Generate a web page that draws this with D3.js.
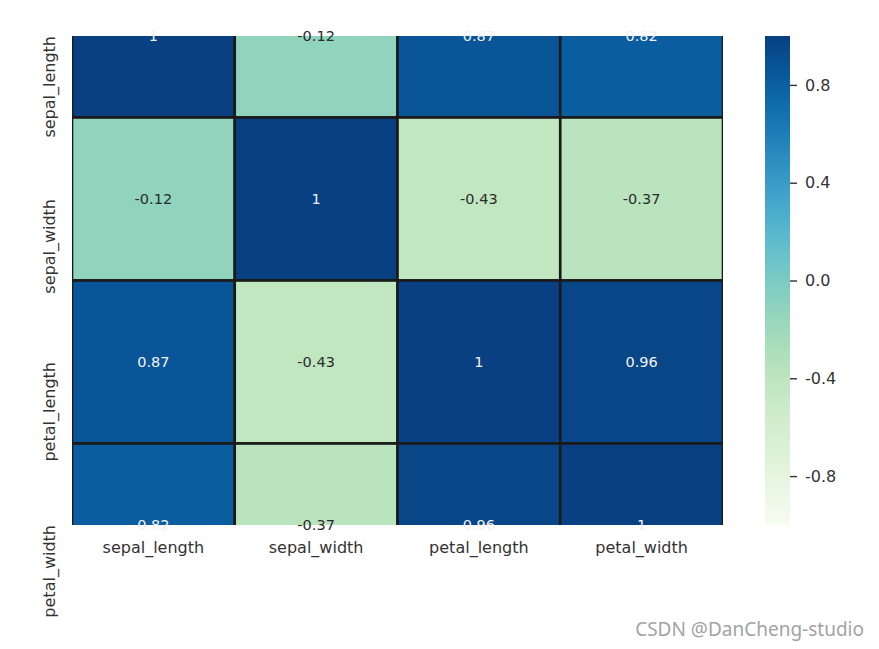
<!DOCTYPE html>
<html>
<head>
<meta charset="utf-8">
<script src="https://cdn.jsdelivr.net/npm/d3@7"></script>
<style>
  html, body { margin: 0; padding: 0; background: #fff; }
  svg { display: block; }
</style>
</head>
<body>
<svg id="chart" width="879" height="649"></svg>
<script>
// ---- data ----
const variables = ["sepal_length", "sepal_width", "petal_length", "petal_width"];
const row_sepal_length = [1, -0.12, 0.87, 0.82];
const row_sepal_width  = [-0.12, 1, -0.43, -0.37];
const row_petal_length = [0.87, -0.43, 1, 0.96];
const row_petal_width  = [0.82, -0.37, 0.96, 1];
const colorbarTicks = [0.8, 0.4, 0.0, -0.4, -0.8];
const colorDomain = [-1, 1];

const matrix = [row_sepal_length, row_sepal_width, row_petal_length, row_petal_width];

// ---- layout ----
const plot = { left: 72, top: 36, right: 723, bottom: 525 };
const cbar = { left: 765, width: 25 };
const FONT = "'DejaVu Sans', sans-serif";

const svg = d3.select("#chart");

const x = d3.scaleBand().domain(variables).range([plot.left, plot.right]).padding(0);
// rows occupy [i, i+1]; visible window is from the centre of the first row to the centre of the last
const y = d3.scaleLinear().domain([0.5, variables.length - 0.5]).range([plot.top, plot.bottom]);
const color = d3.scaleSequential(d3.interpolateGnBu).domain(colorDomain);

svg.append("defs").append("clipPath").attr("id", "plotclip")
  .append("rect")
  .attr("x", plot.left).attr("y", plot.top)
  .attr("width", plot.right - plot.left).attr("height", plot.bottom - plot.top);

const cells = [];
matrix.forEach((row, i) => row.forEach((v, j) => cells.push({ i, j, v })));

const g = svg.append("g").attr("clip-path", "url(#plotclip)");
g.selectAll("rect.cell").data(cells).enter().append("rect")
  .attr("class", "cell")
  .attr("x", d => x(variables[d.j]))
  .attr("y", d => y(d.i))
  .attr("width", x.bandwidth())
  .attr("height", d => y(d.i + 1) - y(d.i))
  .attr("fill", d => color(d.v))
  .attr("stroke", "#1a1a1a")
  .attr("stroke-width", 2.6);

function lum(c) {
  const rgb = d3.rgb(c);
  const f = u => { u /= 255; return u <= 0.03928 ? u / 12.92 : Math.pow((u + 0.055) / 1.055, 2.4); };
  return 0.2126 * f(rgb.r) + 0.7152 * f(rgb.g) + 0.0722 * f(rgb.b);
}

svg.append("g").selectAll("text.annot").data(cells).enter().append("text")
  .attr("class", "annot")
  .attr("x", d => x(variables[d.j]) + x.bandwidth() / 2)
  .attr("y", d => y(d.i + 0.5))
  .attr("text-anchor", "middle")
  .attr("dominant-baseline", "central")
  .attr("font-family", FONT)
  .attr("font-size", 14.5)
  .attr("fill", d => lum(color(d.v)) > 0.408 ? "#2b2b2b" : "#f2f2f6")
  .text(d => String(d.v));

// x tick labels
svg.append("g").selectAll("text.xl").data(variables).enter().append("text")
  .attr("x", d => x(d) + x.bandwidth() / 2)
  .attr("y", 553)
  .attr("text-anchor", "middle")
  .attr("font-family", FONT)
  .attr("font-size", 16)
  .attr("fill", "#333")
  .text(d => d);

// y tick labels (rotated, end of text at the tick)
svg.append("g").selectAll("text.yl").data(variables).enter().append("text")
  .attr("transform", (d, i) => `translate(55,${y(i + 0.5)}) rotate(-90)`)
  .attr("text-anchor", "end")
  .attr("font-family", FONT)
  .attr("font-size", 16)
  .attr("fill", "#333")
  .text(d => d);

// colorbar
const cy = d3.scaleLinear().domain(colorDomain).range([plot.bottom, plot.top]);
const grad = svg.select("defs").append("linearGradient").attr("id", "cbgrad")
  .attr("x1", 0).attr("y1", 1).attr("x2", 0).attr("y2", 0);
d3.range(0, 1.0001, 0.02).forEach(t => {
  grad.append("stop").attr("offset", t).attr("stop-color", d3.interpolateGnBu(t));
});
svg.append("rect")
  .attr("x", cbar.left).attr("y", plot.top)
  .attr("width", cbar.width).attr("height", plot.bottom - plot.top)
  .attr("fill", "url(#cbgrad)");

const cAxis = d3.axisRight(cy).tickValues(colorbarTicks).tickSize(7).tickPadding(8)
  .tickFormat(d => d.toFixed(1));
const ca = svg.append("g").attr("transform", `translate(${cbar.left + cbar.width},0)`).call(cAxis);
ca.select(".domain").remove();
ca.selectAll("line").attr("stroke", "#333").attr("stroke-width", 1.4);
ca.selectAll("text").attr("font-family", FONT).attr("font-size", 16).attr("fill", "#333");

// watermark
svg.append("text")
  .attr("x", 864).attr("y", 636)
  .attr("text-anchor", "end")
  .attr("font-family", "'Noto Sans', 'Open Sans', sans-serif")
  .attr("font-size", 19)
  .attr("fill", "#a3a3a3")
  .text("CSDN @DanCheng-studio");
</script>
</body>
</html>
